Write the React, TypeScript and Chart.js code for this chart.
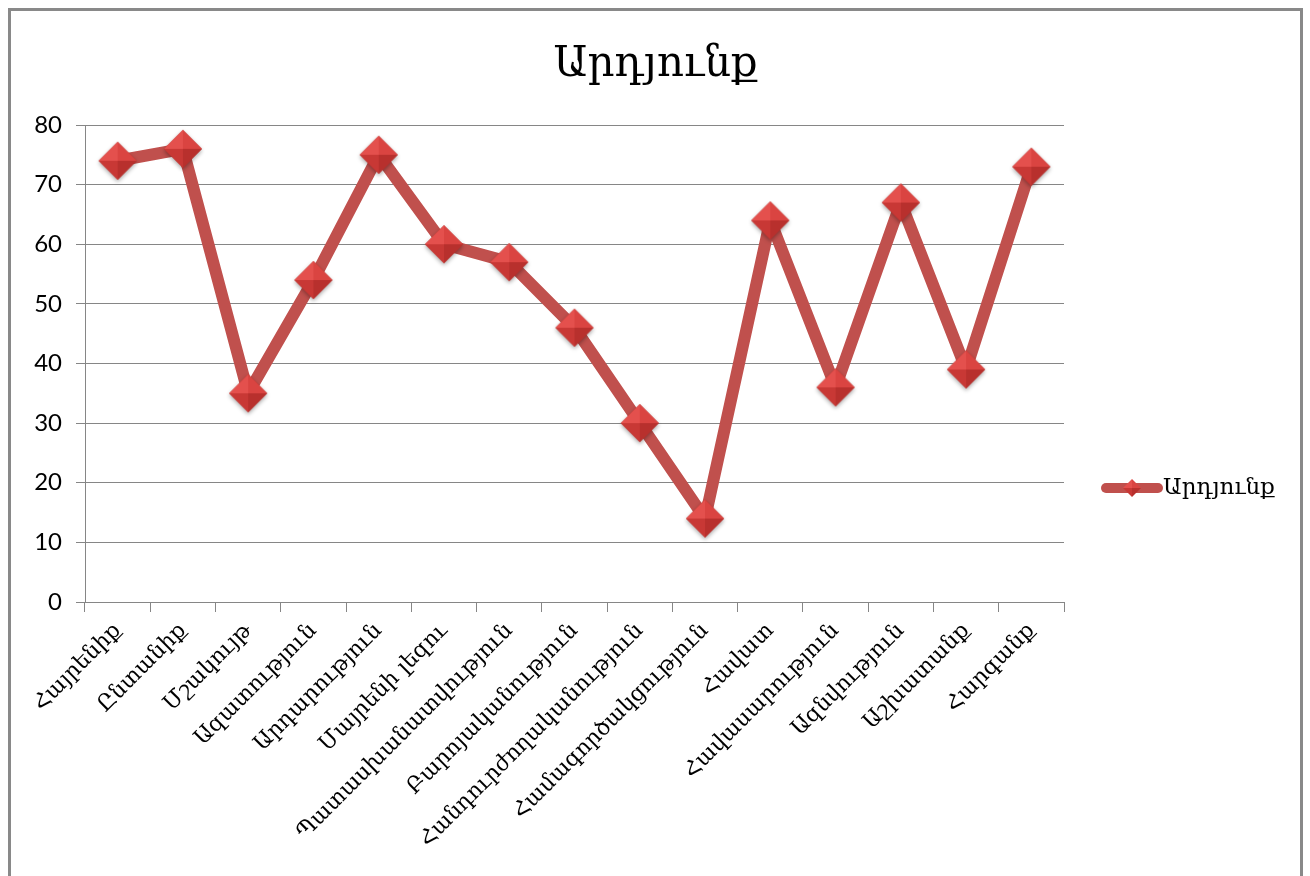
import React, { useEffect, useRef } from "react";
import { Chart, registerables } from "chart.js";

Chart.register(...registerables);

const chartTitle = "Արդյունք";
const seriesName = "Արդյունք";
const categories = [
  "Հայրենիք",
  "Ընտանիք",
  "Մշակույթ",
  "Ազատություն",
  "Արդարություն",
  "Մայրենի լեզու",
  "Պատասխանատվություն",
  "Բարոյականություն",
  "Հանդուրժողականություն",
  "Համագործակցություն",
  "Հավատ",
  "Հավասարություն",
  "Ազնվություն",
  "Աշխատանք",
  "Հարգանք",
];
const values = [74, 76, 35, 54, 75, 60, 57, 46, 30, 14, 64, 36, 67, 39, 73];
const yMin = 0;
const yMax = 80;
const yStep = 10;

const LINE_COLOR = "#C0504D";
const GRID_COLOR = "#868686";
const ARM_FONT = "'DejaVu Serif', serif";

function makeDiamond(half: number, shadow: boolean): HTMLCanvasElement {
  const pad = shadow ? 6 : 1;
  const size = Math.ceil(half * 2 + pad * 2);
  const c = document.createElement("canvas");
  c.width = size;
  c.height = size;
  const ctx = c.getContext("2d")!;
  const cx = size / 2;
  const cy = size / 2;
  if (shadow) {
    ctx.save();
    ctx.shadowColor = "rgba(0,0,0,0.35)";
    ctx.shadowBlur = 4;
    ctx.shadowOffsetY = 2;
    ctx.beginPath();
    ctx.moveTo(cx, cy - half);
    ctx.lineTo(cx + half, cy);
    ctx.lineTo(cx, cy + half);
    ctx.lineTo(cx - half, cy);
    ctx.closePath();
    ctx.fillStyle = "#B8302D";
    ctx.fill();
    ctx.restore();
  }
  const facets: [number, number, number, number, string][] = [
    [0, -half, -half, 0, "#E4504D"],
    [0, -half, half, 0, "#DA4441"],
    [-half, 0, 0, half, "#C83835"],
    [half, 0, 0, half, "#B8302D"],
  ];
  for (const [x1, y1, x2, y2, col] of facets) {
    ctx.beginPath();
    ctx.moveTo(cx, cy);
    ctx.lineTo(cx + x1, cy + y1);
    ctx.lineTo(cx + x2, cy + y2);
    ctx.closePath();
    ctx.fillStyle = col;
    ctx.fill();
  }
  return c;
}

export default function App() {
  const ref = useRef<HTMLCanvasElement | null>(null);

  useEffect(() => {
    if (!ref.current) return;
    const W = 1289;
    const H = 865;
    const axisLeft = 74;
    const axisBottom = 591;
    const plotTop = 114;
    const plotRight = 1053;

    const marker = makeDiamond(19, true);
    const legendMarker = makeDiamond(9, false);

    const overlay = {
      id: "overlay",
      afterDraw(chart: any) {
        const ctx = chart.ctx as CanvasRenderingContext2D;
        ctx.save();
        // title
        ctx.fillStyle = "#000";
        ctx.font = `42px ${ARM_FONT}`;
        ctx.textAlign = "center";
        ctx.textBaseline = "middle";
        ctx.fillText(chartTitle, W / 2, 54);
        // legend
        const ly = 477;
        ctx.strokeStyle = LINE_COLOR;
        ctx.lineWidth = 10;
        ctx.lineCap = "round";
        ctx.beginPath();
        ctx.moveTo(1095, ly);
        ctx.lineTo(1147, ly);
        ctx.stroke();
        ctx.drawImage(
          legendMarker,
          1121 - legendMarker.width / 2,
          ly - legendMarker.height / 2
        );
        ctx.font = `23px ${ARM_FONT}`;
        ctx.textAlign = "left";
        ctx.fillText(seriesName, 1152, ly);
        ctx.restore();
      },
    };

    const chart = new Chart(ref.current, {
      type: "line",
      data: {
        labels: categories,
        datasets: [
          {
            label: seriesName,
            data: values,
            borderColor: LINE_COLOR,
            backgroundColor: LINE_COLOR,
            borderWidth: 12,
            tension: 0,
            pointStyle: marker as any,
            pointRadius: 19,
            pointHoverRadius: 19,
            borderJoinStyle: "round",
            borderCapStyle: "round",
          },
        ],
      },
      options: {
        animation: false,
        responsive: false,
        events: [],
        layout: {
          padding: { top: plotTop, right: W - plotRight, left: 0, bottom: 0 },
        },
        plugins: {
          legend: { display: false },
          title: { display: false },
          tooltip: { enabled: false },
        },
        scales: {
          x: {
            type: "category",
            offset: true,
            afterFit: (s: any) => {
              s.height = H - axisBottom;
            },
            grid: {
              offset: true,
              drawOnChartArea: false,
              drawTicks: true,
              tickLength: 10,
              color: GRID_COLOR,
              lineWidth: 1,
            },
            border: { display: true, color: GRID_COLOR, width: 1 },
            ticks: {
              autoSkip: false,
              minRotation: 45,
              maxRotation: 45,
              padding: 6,
              color: "#000",
              font: { family: ARM_FONT, size: 22 },
            },
          },
          y: {
            type: "linear",
            min: yMin,
            max: yMax,
            afterFit: (s: any) => {
              s.width = axisLeft;
            },
            grid: {
              color: GRID_COLOR,
              lineWidth: 1,
              drawTicks: true,
              tickLength: 9,
            },
            border: { display: true, color: GRID_COLOR, width: 1 },
            ticks: {
              stepSize: yStep,
              padding: 14,
              color: "#000",
              font: { family: "Lato, 'Open Sans', sans-serif", size: 24 },
            },
          },
        },
      },
      plugins: [overlay],
    });
    return () => chart.destroy();
  }, []);

  return (
    <div
      style={{
        position: "fixed",
        left: 8,
        top: 8,
        width: 1289,
        height: 900,
        border: "3px solid #898989",
        background: "#fff",
      }}
    >
      <canvas
        ref={ref}
        width={1289}
        height={865}
        style={{ display: "block", width: 1289, height: 865 }}
      />
    </div>
  );
}
